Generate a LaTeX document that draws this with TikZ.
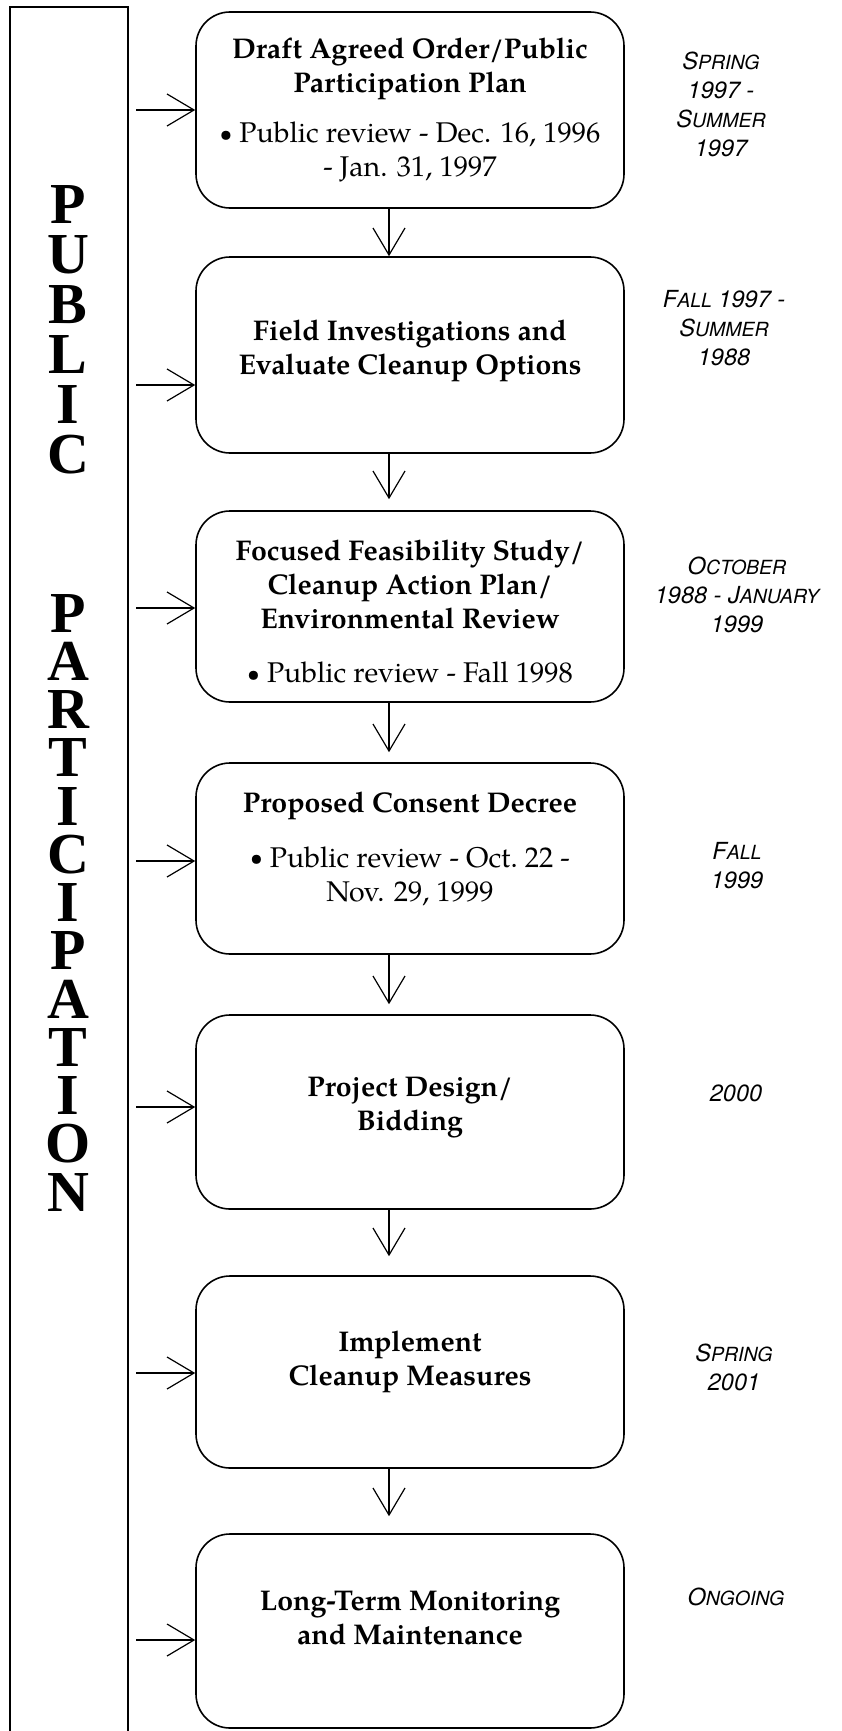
\documentclass[tikz,border=0pt]{standalone}
\usepackage{fontspec}
\IfFontExistsTF{TeX Gyre Heros}{\newfontfamily\helv{TeX Gyre Heros}}{\newfontfamily\helv{Liberation Sans}}
\newfontfamily\tms{Liberation Serif}
\IfFontExistsTF{TeX Gyre Pagella}{\newfontfamily\pal{TeX Gyre Pagella}}{\newfontfamily\pal{Liberation Serif}[Scale=1.18]}
\newcommand\SCw[2]{#1{\fontsize{19.5}{29}\selectfont #2}}
\usetikzlibrary{arrows.meta}
\tikzset{
  box/.style={draw, line width=1.6pt, rounded corners=34pt, minimum width=428pt, inner sep=0pt},
  txt/.style={align=center, inner sep=0pt, font=\pal\fontsize{28.5}{34}\selectfont},
  rt/.style={align=center, inner sep=0pt, font=\helv\itshape\fontsize{23.5}{29}\selectfont},
  vlet/.style={align=center, inner sep=0pt, font=\tms\bfseries\fontsize{58}{50}\selectfont},
  arr/.style={line width=1.2pt, -{Straight Barb[length=27pt,width=32pt,line width=1.2pt]}},
}
\newcommand\smbul{\raisebox{0.1ex}{\scalebox{0.8}{\textbullet}}}
\begin{document}
\begin{tikzpicture}[x=1pt,y=-1pt]
\useasboundingbox (0,0) rectangle (841,1731);
% left bar
\draw[line width=1.3pt] (10,1740) -- (10,7) -- (128,7) -- (128,1740);
\node[vlet, anchor=north] (pub) at (68,185) {P\\U\\B\\L\\I\\C};
\node[vlet, anchor=north, font=\tms\bfseries\fontsize{58}{48.25}\selectfont] (par) at (68,594) {P\\A\\R\\T\\I\\C\\I\\P\\A\\T\\I\\O\\N};
% boxes
\node[box, minimum height=196pt] (b1) at (410,110) {};
\node[box, minimum height=196pt] (b2) at (410,355) {};
\node[box, minimum height=191pt] (b3) at (410,606.5) {};
\node[box, minimum height=191pt] (b4) at (410,858.5) {};
\node[box, minimum height=194pt] (b5) at (410,1112) {};
\node[box, minimum height=192pt] (b6) at (410,1372) {};
\node[box, minimum height=194pt] (b7) at (410,1631) {};
% box texts
\node[txt] (t1) at (410,110) {\textbf{Draft Agreed Order/Public}\\\textbf{Participation Plan}\\[16pt]\smbul\ Public review - Dec. 16, 1996\\- Jan. 31, 1997};
\node[txt] (t2) at (410,351) {\textbf{Field Investigations and}\\\textbf{Evaluate Cleanup Options}};
\node[txt] (t3) at (410,612) {\textbf{Focused Feasibility Study/}\\\textbf{Cleanup Action Plan/}\\\textbf{Environmental Review}\\[20pt]\smbul\ Public review - Fall 1998};
\node[txt] (t4) at (410,848.5) {\textbf{Proposed Consent Decree}\\[21pt]\smbul\ Public review - Oct.\ 22 -\\Nov. 29, 1999};
\node[txt] (t5) at (410,1108) {\textbf{Project Design/}\\\textbf{Bidding}};
\node[txt] (t6) at (410,1362) {\textbf{Implement}\\\textbf{Cleanup Measures}};
\node[txt] (t7) at (410,1618) {\textbf{Long-Term Monitoring}\\\textbf{and Maintenance}};
% right texts
\node[rt] (r1) at (721,104) {\SCw{S}{PRING}\\1997 -\\\SCw{S}{UMMER}\\1997};
\node[rt] (r2) at (724,328) {\SCw{F}{ALL} 1997 -\\\SCw{S}{UMMER}\\1988};
\node[rt] (r3) at (737,595) {\SCw{O}{CTOBER}\\1988 - \SCw{J}{ANUARY}\\1999};
\node[rt] (r4) at (737,866) {\SCw{F}{ALL}\\1999};
\node[rt] (r5) at (736,1093) {2000};
\node[rt] (r6) at (734,1367) {\SCw{S}{PRING}\\2001};
\node[rt] (r7) at (736,1597) {\SCw{O}{NGOING}};
% horizontal arrows
\coordinate (s1) at (136,110);
\coordinate (s2) at (136,385);
\coordinate (s3) at (136,608);
\coordinate (s4) at (136,861);
\coordinate (s5) at (136,1107);
\coordinate (s6) at (136,1373);
\coordinate (s7) at (136,1640);
\foreach \i in {1,...,7} \draw[arr] (s\i) -- (s\i -| b\i.west);
% vertical arrows
\draw[arr] ([xshift=-21pt]b1.south) -- ([xshift=-21pt]b2.north);
\draw[arr, shorten >=11pt] ([xshift=-21pt]b2.south) -- ([xshift=-21pt]b3.north);
\draw[arr, shorten >=10pt] ([xshift=-21pt]b3.south) -- ([xshift=-21pt]b4.north);
\draw[arr, shorten >=10pt] ([xshift=-21pt]b4.south) -- ([xshift=-21pt]b5.north);
\draw[arr, shorten >=19pt] ([xshift=-21pt]b5.south) -- ([xshift=-21pt]b6.north);
\draw[arr, shorten >=17pt] ([xshift=-21pt]b6.south) -- ([xshift=-21pt]b7.north);
\end{tikzpicture}
\end{document}
